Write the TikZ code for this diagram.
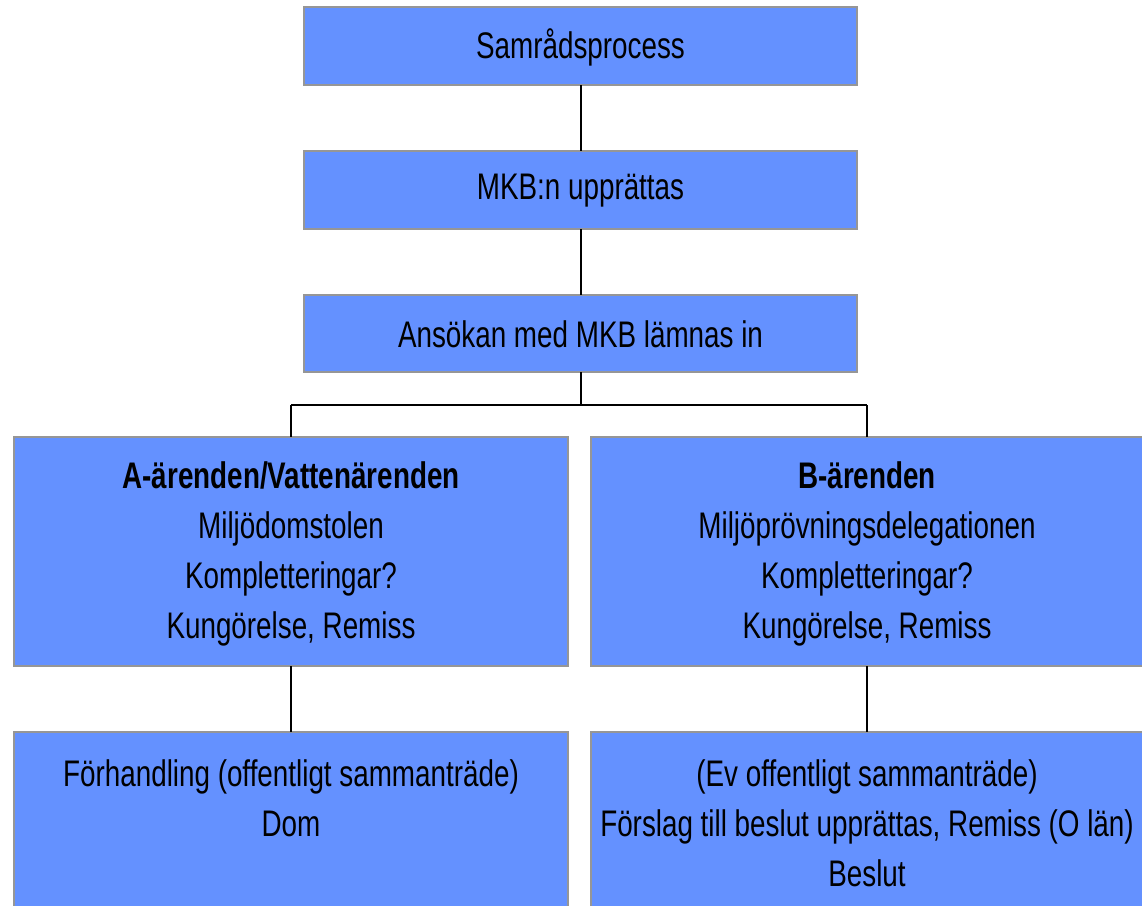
\documentclass[tikz,border=0pt]{standalone}
\usepackage{fontspec}
\setmainfont{Liberation Sans}[FakeStretch=0.752]
\definecolor{boxblue}{RGB}{100,145,255}
\definecolor{boxgray}{RGB}{150,150,150}
\begin{document}
\begin{tikzpicture}[x=1pt,y=-1pt,
  box/.style={draw=boxgray, line width=2.2pt, fill=boxblue, anchor=north west, inner sep=0pt, outer sep=0pt},
  txt/.style={font=\fontsize{37}{50}\selectfont, align=center, inner sep=0pt},
  conn/.style={draw=black, line width=2pt}]
\useasboundingbox (0,0) rectangle (1142,905);
% boxes
\node[box, minimum width=553pt, minimum height=78pt] (b1) at (304,7) {};
\node[box, minimum width=553pt, minimum height=78pt] (b2) at (304,151) {};
\node[box, minimum width=553pt, minimum height=77pt] (b3) at (304,295) {};
\node[box, minimum width=554pt, minimum height=229pt] (bl) at (14,437) {};
\node[box, minimum width=560pt, minimum height=229pt] (br) at (591,437) {};
\node[box, minimum width=554pt, minimum height=190pt] (cl) at (14,732) {};
\node[box, minimum width=560pt, minimum height=190pt] (cr) at (591,732) {};
% texts
\node[txt] (t1) at (580.5,47) {Samrådsprocess};
\node[txt] (t2) at (580.5,191) {MKB:n upprättas};
\node[txt] (t3) at (580.5,334) {Ansökan med MKB lämnas in};
\node[txt] (tl) at (291,554) {\textbf{A-ärenden/Vattenärenden}\\Miljödomstolen\\Kompletteringar?\\Kungörelse, Remiss};
\node[txt] (tr) at (867,554) {\textbf{B-ärenden}\\Miljöprövningsdelegationen\\Kompletteringar?\\Kungörelse, Remiss};
\node[txt] (ul) at (291,798) {Förhandling (offentligt sammanträde)\\Dom};
\node[txt] (ur) at (867,823) {(Ev offentligt sammanträde)\\Förslag till beslut upprättas, Remiss (O län)\\Beslut};
% connectors
\coordinate (j) at (580.5,405);
\coordinate (jl) at (291,405);
\coordinate (jr) at (867,405);
\draw[conn] (b1.south) -- (b2.north);
\draw[conn] (b2.south) -- (b3.north);
\draw[conn] (b3.south) -- (j);
\draw[conn] (jl) -- (jr);
\draw[conn] (jl) -- (jl |- bl.north);
\draw[conn] (jr) -- (jr |- br.north);
\draw[conn] (jl |- bl.south) -- (jl |- cl.north);
\draw[conn] (jr |- br.south) -- (jr |- cr.north);
\end{tikzpicture}
\end{document}
